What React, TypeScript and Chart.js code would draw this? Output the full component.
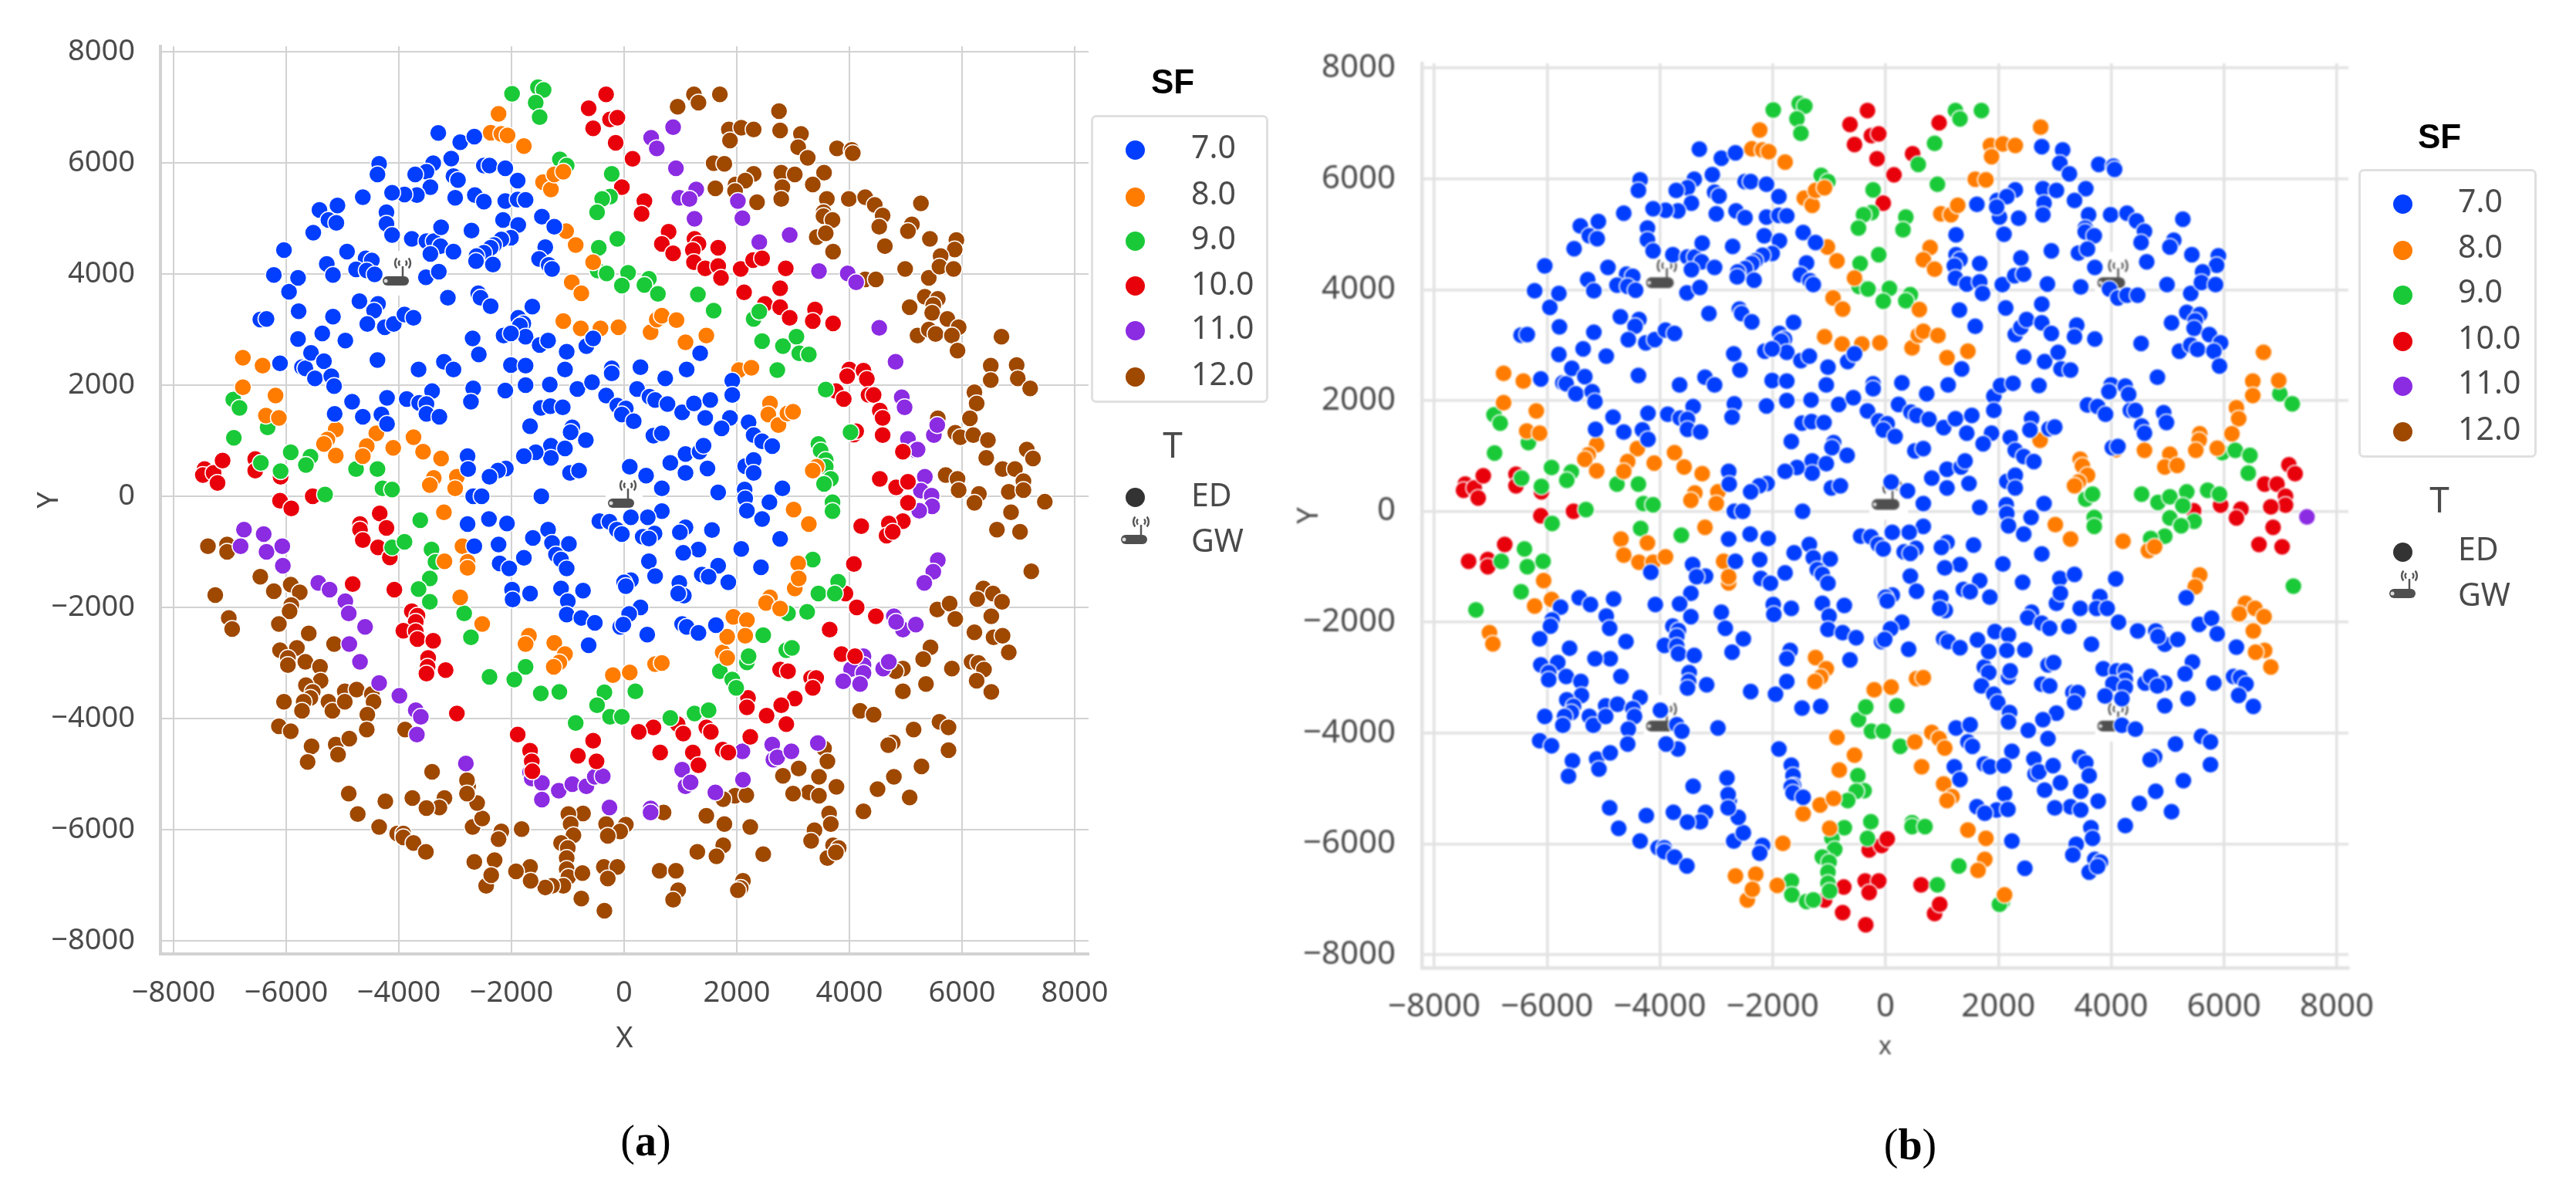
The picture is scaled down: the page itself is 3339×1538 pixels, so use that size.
import React, { useEffect, useRef } from "react";
import { Chart, registerables } from "chart.js";
Chart.register(...registerables);

const tickValues = [-8000, -6000, -4000, -2000, 0, 2000, 4000, 6000, 8000];
const sfLabels = ["7.0", "8.0", "9.0", "10.0", "11.0", "12.0"];
const sfColors = ["#023eff", "#ff7c00", "#1ac938", "#e8000b", "#8b2be2", "#9f4800"];
const gwA = [-4000, 4000, 0, 0];
const gwB = [0, 0, -4000, 4000, 4000, 4000, -4000, -4000, 4000, -4000];

const sf7A = [-3300,6535,-2910,6370,-2660,6470,-3070,6075,-3390,5990,-3510,5840,-3710,5790,-4350,5980,-4380,5790,-2490,5950,-2390,5950,-2110,5900,-1890,5680,-3030,5760,-2950,5690,-3440,5560,-2650,5420,-2490,5300,-3000,5370,-3680,5420,-3900,5430,-4120,5460,-4640,5380,-5090,5230,-5410,5150,-5250,4970,-5110,4920,-5520,4740,-4220,5110,-4220,4900,-4120,4700,-3770,4630,-3510,4590,-3380,4590,-3260,4500,-3250,4840,-2710,4780,-2150,4970,-2110,5310,-1890,5340,-1750,5330,-1880,4880,-2010,4650,-2180,4620,-2310,4520,-2370,4470,-2490,4380,-2620,4320,-2630,4230,-2330,4170,-1460,5030,-1240,4850,-1400,4480,-1510,4270,-1340,4160,-1280,4090,-6040,4430,-6220,3980,-5950,3680,-5790,3930,-5780,3330,-5280,4180,-5170,3980,-4920,4400,-4590,4280,-4480,4240,-4760,4080,-4570,4060,-4430,3990,-3520,3940,-3290,4040,-3440,4360,-3030,4400,-3130,3570,-2590,3650,-2550,3570,-2370,3420,-1630,3410,-1880,3210,-1790,3110,-1850,3070,-1750,2870,-2140,2890,-2010,2930,-2690,2840,-2580,2550,-3650,2280,-3200,2420,-3030,2280,-2010,2360,-1750,2350,-1500,2720,-1350,2800,-1020,2600,-670,2700,-550,2840,-1050,2280,-2680,1940,-2720,1700,-3410,1890,-2110,1900,-1750,2000,-1320,2010,-830,1930,-570,2050,-220,2300,-220,2210,290,2320,730,2120,1110,2280,1350,2570,1920,2080,1920,1820,230,1930,450,1790,550,1730,770,1660,-320,1810,-120,1630,30,1580,-40,1470,170,1350,1030,1510,1240,1670,1440,1410,1530,1730,1880,1410,1730,1220,2210,1330,2300,1100,2450,990,2630,900,-1480,1590,-1310,1620,-1090,1600,-1670,1260,-1300,910,-920,1240,-950,1150,-680,1010,-1050,860,-1300,690,-1570,790,-1780,720,-2100,500,-2240,460,-2390,350,-2780,720,-2770,490,-2680,0,-2530,0,-1470,0,-960,420,-800,460,520,1090,670,1130,820,600,1090,760,1340,800,1410,910,1090,420,1480,500,1670,70,100,530,390,370,670,140,2150,540,2300,650,2300,420,2140,120,2150,-40,2180,-260,2810,140,2580,-110,2450,-410,2770,-770,2080,-950,2430,-1280,1850,-1550,1670,-1250,1380,-1410,1500,-1450,1090,-560,990,-650,1560,-610,1320,-960,1050,-1020,540,-670,670,-270,420,-380,330,-730,440,-760,120,-380,-440,-450,-260,-460,-130,-600,-40,-680,440,-1170,550,-1440,980,-1560,1060,-1790,960,-1750,290,-2000,90,-2120,-70,-2350,-15,-2310,410,-2490,1030,-2300,1110,-2350,1320,-2460,1630,-2320,120,-1510,0,-1550,30,-1620,-730,-1700,-1120,-1660,-1000,-1890,-1020,-2130,-760,-2190,-520,-2280,-630,-2680,-1670,-1750,-1990,-1680,-1980,-1860,-2210,-1210,-2040,-1300,-1780,-1110,-2230,-870,-2780,-500,-2400,-410,-2080,-490,-1620,-750,-1350,-600,-1280,-840,-980,-860,-1210,-1050,-1120,-1140,-1020,-1300,-2660,-900,-6110,2390,-5790,2830,-5360,2930,-5170,3230,-4950,2800,-4700,3510,-4370,3460,-4440,3340,-4560,3100,-4380,2450,-4250,3040,-4090,3100,-3900,3270,-3740,3210,-5720,2320,-5660,2300,-5560,2580,-5330,2430,-5490,2120,-5200,2160,-5150,1980,-4830,1700,-5140,1480,-4640,1430,-4310,1470,-4210,1770,-4210,1300,-3860,1750,-3640,1680,-3510,1660,-3510,1480,-3280,1430,-6460,3180,-6350,3190];
const sf8A = [-2230,6880,-2370,6540,-2180,6520,-2070,6490,-1780,6300,-1440,5650,-1300,5520,-1240,5790,-1080,5840,-1030,4770,-860,4520,-550,4210,-930,3850,-760,3650,-1080,3150,-770,3020,-420,3020,-100,3040,470,2950,580,3180,670,3250,930,3170,1090,2770,1460,2890,2040,2270,2260,2310,2590,1670,2560,1470,2740,1280,2900,1490,3000,1520,-6770,2490,-6420,2350,-6770,1960,-6190,1810,-6360,1450,-6130,1410,-5120,1200,-5270,1020,-5330,940,-5120,730,-4400,1130,-4570,900,-4640,720,-4100,870,-3740,1060,-3570,800,-3250,680,-2970,350,-3000,140,-3380,330,-3450,200,-3200,-290,-2870,-900,-2780,-1180,-2780,-1290,-3190,-1170,-2910,-1820,-2520,-2300,-1690,-2510,-1750,-2660,-1240,-2640,-1050,-2840,-1150,-2990,-1250,-3070,-200,-3220,100,-3170,550,-3020,670,-3000,1940,-2170,2180,-2230,1750,-2810,1830,-2910,1830,-2530,2150,-2510,2590,-1820,2520,-1920,2770,-2020,3090,-1210,3030,-1660,3100,-1480,3010,-240,3280,-500,3420,530,3350,460];
const sf9A = [-1990,7240,-1530,7360,-1430,7310,-1570,7080,-1500,6820,-1140,6060,-1020,5950,-220,5800,-250,5390,-390,5350,-480,5110,-120,4630,-450,4470,-470,4060,-310,4010,70,4020,-40,3790,440,3910,360,3800,600,3640,1310,3630,1590,3340,2300,3190,2400,3320,2450,2790,2820,2700,3060,2870,3110,2570,3280,2550,2720,2270,3580,1920,4020,1150,3450,940,3490,820,3580,650,3580,530,3670,310,3550,220,3700,-110,3700,-270,-6940,1740,-6830,1590,-6930,1050,-6330,1240,-5920,790,-5570,710,-5650,560,-6100,450,-4760,490,-4380,490,-4290,140,-4120,120,-5310,30,-3620,-430,-3420,-960,-3350,-1180,-4120,-920,-3900,-820,-3450,-1480,-3650,-1670,-3450,-1900,-2840,-2110,-2720,-2540,-2390,-3250,-1950,-3300,-1750,-3070,-1480,-3550,-1150,-3520,-350,-3530,-480,-3760,-250,-3970,-40,-3970,200,-3510,-860,-4080,820,-3990,1250,-3910,1500,-3850,1700,-3150,1920,-3300,1990,-3450,2180,-2990,2210,-2880,2470,-2500,2880,-2770,2980,-2730,2910,-2110,3250,-2080,3450,-1750,3350,-1140,3800,-1540,3740,-1750,-6450,600];
const sf10A = [-630,6980,-320,7230,-250,6780,-120,6810,-550,6620,-150,6360,150,6070,-40,5560,360,5310,310,5080,790,4760,670,4540,870,4370,1250,4630,1320,4540,1220,4430,1670,4470,1240,4210,1440,4100,1670,4140,1720,3930,2070,4090,2290,4250,2450,4280,2870,4100,2130,3670,2770,3740,2500,3460,2770,3400,2940,3210,3390,3360,3350,3150,3710,3110,4000,2280,4250,2260,3960,2160,4310,2110,3760,1890,3900,1750,4340,1820,4430,1820,4540,1540,4590,1410,4590,1100,4080,1110,4120,1170,4950,800,4540,310,4830,160,5040,260,5040,-120,4950,-450,4700,-490,4660,-710,4770,-640,4210,-540,4080,-1220,3930,-1750,4130,-2000,4470,-2160,3650,-2400,3860,-2840,4100,-2880,2770,-3120,2910,-3150,3320,-3270,3410,-3270,3350,-3450,3030,-3640,2790,-3760,2530,-3950,2200,-3630,2180,-3800,2880,-4100,2240,-4330,1750,-4560,1850,-4610,1460,-4160,1540,-4240,950,-4100,1050,-4270,1220,-4610,1320,-4840,640,-4610,520,-4160,260,-4240,-550,-4400,-490,-4770,-820,-4670,-1890,-4290,-1670,-4580,-1640,-4770,-1630,-4950,-2970,-3910,-7450,490,-7480,380,-7290,420,-7220,240,-7130,640,-6550,670,-6550,460,-6100,350,-6110,-80,-5910,-220,-5530,0,-4690,-500,-4690,-600,-4640,-790,-4340,-310,-4220,-570,-4370,-920,-4160,-1100,-4820,-1580,-4080,-1680,-3770,-2070,-3670,-2150,-3700,-2260,-3920,-2420,-3700,-2430,-3670,-2570,-3390,-2600,-3480,-2910,-3490,-3070,-3510,-3190,-3170,-3130];
const sf11A = [480,6450,580,6260,870,6640,920,5900,1280,5520,980,5370,1160,5350,2020,5310,2100,5000,1250,4990,2400,4570,2940,4700,3460,4050,3970,4010,4120,3850,4530,3030,4820,2420,4930,1780,4980,1600,5040,1030,5170,830,5210,840,5500,1100,5560,1280,5340,350,5270,100,5460,10,5470,-180,5240,-260,5570,-1150,5490,-1360,5330,-1560,4790,-2160,4950,-2400,5180,-2310,4830,-2260,4250,-2880,4250,-3040,4030,-3110,4250,-3180,3890,-3330,4190,-3380,4600,-3100,4700,-2980,-6750,-600,-6810,-900,-6400,-680,-6350,-1000,-6070,-900,-6060,-1250,-5430,-1560,-5230,-1680,-4950,-1890,-4890,-2110,-4600,-2350,-4880,-2660,-4690,-2980,-4350,-3360,-3990,-3590,-3700,-3850,-3610,-3970,-3680,-4290,-2810,-4810,-1670,-4970,-1640,-5080,-1460,-5160,-1460,-5460,-1160,-5300,-920,-5180,-670,-5220,-520,-5050,-380,-5040,-260,-5600,470,-5620,470,-5690,1030,-4920,1090,-5220,1180,-5150,1620,-5330,2100,-4590,2110,-5100,2630,-4470,2650,-4740,2720,-4700,2970,-4590,3440,-4440];
const sf12A = [1240,7230,1320,7080,1700,7230,950,7010,2750,6930,1860,6600,2080,6630,2300,6600,2770,6580,3140,6520,1880,6400,3090,6280,3260,6090,1590,5990,1780,5980,2300,5800,2790,5820,3030,5790,3550,5820,3350,5610,1620,5540,1980,5610,2150,5680,1970,5490,2810,5560,2790,5350,2360,5290,3600,5350,3990,5350,4280,5380,4450,5240,4590,5050,5270,5270,3540,5110,3540,5040,3700,4970,4530,4850,5110,4890,5040,4770,3420,4660,3580,4730,4630,4500,5430,4630,5900,4610,5870,4440,5620,4320,3710,4400,4990,4090,5410,3930,5600,4130,5850,4090,4280,3900,4470,3900,5070,3400,5340,3590,5570,3550,5490,3440,5470,3300,5740,3190,5210,2890,5410,3000,5530,2920,5940,3040,5820,2890,5920,2620,6700,2870,6510,2350,6510,2090,6970,2360,6990,2120,7210,1940,6220,1870,6260,1670,6140,1400,5880,1140,5970,1060,6200,1100,6460,1010,6430,690,7150,840,7260,680,5570,1400,6720,490,6940,490,5710,380,5920,310,5940,110,6300,40,6220,-120,6830,80,7090,270,7090,110,7470,-100,6870,-290,6620,-600,7030,-640,7230,-1350,6380,-1660,6270,-1850,6550,-1750,6710,-1900,5560,-2040,5780,-1930,5880,-2210,6520,-2160,6220,-2450,6560,-2540,6720,-2510,6830,-2810,5440,-2720,5310,-2930,4950,-3100,4820,-3150,5820,-3100,6170,-2980,6290,-3000,6390,-3120,6260,-3320,6520,-3520,4950,-3510,5360,-3380,4190,-3860,4430,-3930,5140,-4200,5600,-4060,5760,-4160,5760,-4570,4770,-4430,4690,-4480,3550,-4540,3610,-4770,3770,-5230,3460,-5050,3100,-4900,2820,-5030,3280,-5330,3000,-5350,3460,-5390,4250,-5670,4500,-5270,4790,-5050,5280,-4860,5070,-5420,3640,-5710,3670,-5900,3380,-6010,3320,-6200,3710,-6280,3810,-6330,3610,-6510,3760,-6410,2470,-6440,2240,-5950,1970,-5390,1760,-5450,2170,-5380,1780,-5900,1460,-5750,1760,-6280,1640,-6480,1300,-6400,700,-5690,630,-6740,920,-6740,960,-7090,870,-7260,2110,-6920,2070,-7050,2020,-7090,-320,-5900,30,-5910,-70,-6030,-290,-6110,-730,-5710,-990,-5720,-950,-5900,-900,-6100,-1120,-6240,-1000,-6330,-1020,-6510,-1020,-6710,-990,-6850,-740,-6780,-360,-6670,-120,-6670,-290,-6880,-760,-7240,-350,-7460,-1080,-7010,-1280,-7010,-1400,-7040,-1670,-6670,-1920,-6750,-1660,-6920,-2300,-6550,-2450,-7010,-2360,-6820,-2660,-6580,-2180,-6030,-2230,-6170,-1820,-5990,-2690,-5950,-2520,-5800,-2610,-5520,-2770,-5220,-2790,-5110,-2790,-5350,-3190,-5430,-3280,-5600,-3510,-5610,-3760,-5430,-4240,-5490,-4730,-5720,-4890,-5350,-4350,-5950,-4030,-6070,-3920,-6070,-3920,-6140,-3740,-6240,-3520,-6400,-3410,-4960,-7390,-900,-7050,-870,-7050,-1000,-7260,-1780,-7020,-2190,-6960,-2390,-6460,-1450,-6220,-1710,-5920,-1590,-5760,-1730,-5910,-1960,-5940,-2070,-6130,-2300,-5600,-2470,-6110,-2770,-5810,-2730,-5970,-2910,-5970,-3040,-5660,-2980,-5400,-3070,-5150,-2660,-5390,-3320,-5650,-3400,-5530,-3520,-5570,-3630,-6040,-3700,-5690,-3700,-5720,-3860,-5250,-3700,-5180,-3860,-4960,-3510,-4750,-3480,-4960,-3700,-4480,-3560,-4450,-3700,-4560,-3930,-4570,-4200,-3890,-4200,-6130,-4140,-5920,-4230,-5550,-4500,-5620,-4780,-5120,-4470,-5080,-4650,-4880,-4360,3780,6260,4040,6230,4060,6170];

const sf7BExtra = [-2520,-2300,-2910,-1820,-1690,-2510,-1750,-2660,1940,-2170,2180,-2230,1750,-2810,1830,-2910,1830,-2530,2150,-2510,2590,-1820,2520,-1920,2770,-2020,3090,-1210,3030,-1660,3100,-1480,2040,2270,2260,2310,2590,1670,2560,1470,2900,1490,3000,1520,-3190,-1170,1310,3630,1590,3340,2300,3190,2400,3320,2450,2790,2820,2700,3060,2870,3110,2570,3280,2550,2720,2270,3580,1920,4020,1150,1700,-3150,1920,-3300,1990,-3450,2180,-2990,2210,-2880,2470,-2500,2880,-2770,2980,-2730,2910,-2110,3250,-2080,3450,-1750,3350,-1140,3800,-1540,3740,-1750,1250,-3910,1500,-3850,-2720,-2540,-2840,-2110,-2390,-3250,-1950,-3300,-1750,-3070,-1480,-3550,-1150,-3520,-3420,-960,-3350,-1180,-3450,-1480,-3650,-1670,-3450,-1900,1250,4630,1320,4540,1220,4430,1670,4470,1240,4210,1440,4100,1670,4140,1720,3930,2070,4090,2290,4250,2450,4280,2870,4100,2130,3670,2770,3740,2500,3460,2770,3400,2940,3210,3390,3360,3350,3150,3710,3110,4000,2280,4250,2260,3960,2160,4310,2110,3760,1890,3900,1750,4340,1820,4430,1820,4540,1540,4590,1410,4120,1170,4080,-1220,3930,-1750,4130,-2000,4470,-2160,3650,-2400,3860,-2840,4100,-2880,2770,-3120,2910,-3150,3320,-3270,3410,-3270,3350,-3450,3030,-3640,2790,-3760,2530,-3950,2200,-3630,2180,-3800,2880,-4100,2240,-4330,1750,-4560,1850,-4610,1460,-4160,1540,-4240,1220,-4610,1320,-4840,-1890,-4290,-1670,-4580,-1640,-4770,-1630,-4950,-2970,-3910,-4160,-1100,-4820,-1580,-4080,-1680,-3770,-2070,-3670,-2150,-3700,-2260,-3920,-2420,-3700,-2430,-3670,-2570,-3390,-2600,-3480,-2910,-3490,-3070,-3510,-3190,-3170,-3130,2020,5310,2100,5000,1250,4990,2400,4570,2940,4700,3460,4050,3970,4010,4120,3850,4530,3030,4820,2420,4930,1780,4980,1600,5330,-1560,4790,-2160,4950,-2400,5180,-2310,4830,-2260,4250,-2880,4250,-3040,4030,-3110,4250,-3180,3890,-3330,4190,-3380,4600,-3100,4700,-2980,-5430,-1560,-5230,-1680,-4950,-1890,-4890,-2110,-4600,-2350,-4880,-2660,-4690,-2980,-4350,-3360,-3990,-3590,-3700,-3850,-3610,-3970,-3680,-4290,-2810,-4810,-1670,-4970,-1640,-5080,-1460,-5160,1620,-5330,2100,-4590,2110,-5100,2630,-4470,2650,-4740,2720,-4700,2970,-4590,3440,-4440,2770,6580,3140,6520,3090,6280,3260,6090,2300,5800,2790,5820,3030,5790,3550,5820,3350,5610,1620,5540,1980,5610,2150,5680,1970,5490,2810,5560,2790,5350,2360,5290,3600,5350,3990,5350,4280,5380,4450,5240,4590,5050,5270,5270,3540,5110,3540,5040,3700,4970,4530,4850,5110,4890,5040,4770,3420,4660,3580,4730,4630,4500,5430,4630,5900,4610,5870,4440,5620,4320,3710,4400,4990,4090,5410,3930,5600,4130,5850,4090,4280,3900,4470,3900,5070,3400,5340,3590,5570,3550,5490,3440,5470,3300,5740,3190,5210,2890,5410,3000,5530,2920,5940,3040,5820,2890,5920,2620,3780,6260,4040,6230,4060,6170,5560,-2040,5780,-1930,5880,-2210,6220,-2450,5440,-2720,5310,-2930,4950,-3100,4820,-3150,5820,-3100,6170,-2980,6290,-3000,6390,-3120,6260,-3320,6520,-3520,4950,-3510,5360,-3380,4190,-3860,4430,-3930,5140,-4200,5600,-4060,5760,-4160,5760,-4570,4770,-4430,4690,-4480,3550,-4540,3610,-4770,3770,-5230,3460,-5050,3100,-4900,2820,-5030,3280,-5330,3000,-5350,3460,-5390,4250,-5670,4500,-5270,4790,-5050,5280,-4860,5070,-5420,3640,-5710,3670,-5900,3380,-6010,3320,-6200,3710,-6280,3810,-6330,3610,-6510,3760,-6410,2470,-6440,2240,-5950,1970,-5390,1760,-5450,2170,-5380,-2690,-5950,-2520,-5800,-2610,-5520,-2770,-5220,-2790,-5110,-2790,-5350,-3190,-5430,-3280,-5600,-3510,-5610,-3760,-5430,-4240,-5490,-4730,-5720,-4890,-5350,-4350,-5950,-4030,-6070,-3920,-6070,-3920,-6140,-3740,-6240,-3520,-6400,-3410,-4960,-2180,-6030,-2230,-6170,-5760,-1730,-5910,-1960,-5940,-2070,-6130,-2300,-5600,-2470,-6110,-2770,-5810,-2730,-5970,-2910,-5970,-3040,-5660,-2980,-5400,-3070,-5150,-2660,-5390,-3320,-5650,-3400,-5530,-3520,-5570,-3630,-6040,-3700,-5690,-3700,-5720,-3860,-5250,-3700,-5180,-3860,-4960,-3510,-4750,-3480,-4960,-3700,-4480,-3560,-4450,-3700,-4560,-3930,-4570,-4200,-3890,-4200,-6130,-4140,-5920,-4230,-5550,-4500,-5620,-4780,-5120,-4470,-5080,-4650,-4880,-4360];
const sf7B = [...sf7A, ...sf7BExtra];
const sf8B = [-2230,6880,-2370,6540,-2180,6520,-2070,6490,-1780,6300,-1440,5650,-1300,5520,-1240,5790,-1080,5840,-1030,4770,-860,4520,-550,4210,-930,3850,-760,3650,-1080,3150,-770,3020,-420,3020,-100,3040,470,2950,580,3180,670,3250,930,3170,1090,2770,1460,2890,790,4760,670,4540,870,4370,600,3640,980,5370,1160,5350,1280,5520,1590,5990,1780,5980,1860,6600,2080,6630,2300,6600,1880,6400,2750,6930,6700,2870,6510,2350,6970,2360,6510,2090,6220,1870,6260,1670,6140,1400,5570,1400,5560,1280,5500,1100,4590,1100,5880,1140,4080,1110,5040,1030,4950,800,5170,830,2740,1280,3450,940,3490,820,3580,650,3420,530,3350,460,3010,-240,3280,-500,4210,-540,4660,-710,4770,-640,5570,-1150,5490,-1360,6380,-1660,6270,-1850,6550,-1750,6710,-1900,6520,-2160,6720,-2510,6560,-2540,6830,-2810,-6770,2490,-6420,2350,-6770,1960,-6190,1810,-6360,1450,-6130,1410,-5120,1200,-5270,1020,-5330,940,-5120,730,-4400,1130,-4570,900,-4640,720,-4100,870,-3740,1060,-3570,800,-3250,680,-2970,350,-3000,140,-3380,330,-3450,200,-3200,-290,-4690,-500,-4220,-570,-4640,-790,-4370,-920,-4120,-920,-3900,-820,-2870,-900,-2780,-1290,-2780,-1180,-6060,-1250,-6220,-1710,-5920,-1590,-7020,-2190,-6960,-2390,-1240,-2640,-1050,-2840,-1150,-2990,-1250,-3070,-200,-3220,100,-3170,550,-3020,670,-3000,-860,-4080,-550,-4400,-820,-4670,820,-3990,950,-4100,1050,-4270,520,-4160,640,-4610,1030,-4920,1180,-5150,1090,-5220,-1460,-5460,-1160,-5300,-920,-5180,-990,-5720,1460,-5750,1780,-5900,1760,-6280,1640,-6480,-1820,-5990,-2660,-6580,-2300,-6550,-2450,-7010,-2360,-6820,-1920,-6750,2110,-6920];
const sf9B = [-1990,7240,-1530,7360,-1430,7310,-1570,7080,-1500,6820,-1140,6060,-1020,5950,-220,5800,-250,5390,-390,5350,-480,5110,-120,4630,-450,4470,-470,4060,-310,4010,70,4020,-40,3790,440,3910,360,3800,360,5310,310,5080,580,6260,870,6640,920,5900,1240,7230,1320,7080,1700,7230,6990,2120,7210,1940,5970,1060,6200,1100,6460,1010,6430,690,4540,310,4830,160,5040,260,5340,350,5270,100,5710,380,5920,310,5470,-180,5040,-120,5240,-260,4950,-450,4700,-490,3550,220,3670,310,3700,-110,3700,-270,7230,-1350,-6940,1740,-6830,1590,-6930,1050,-6330,1240,-5920,790,-5570,710,-5650,560,-6100,450,-6450,600,-4760,490,-4380,490,-4290,140,-4120,120,-5310,30,-5910,-220,-4340,-310,-3620,-430,-6400,-680,-6810,-900,-6350,-1000,-6070,-900,-6460,-1450,-7260,-1780,-480,-3760,-350,-3530,200,-3510,-250,-3970,-40,-3970,260,-4240,-490,-4770,-380,-5040,-520,-5050,-670,-5220,-730,-5710,-260,-5600,-320,-5900,470,-5620,470,-5690,700,-5690,-950,-5900,-900,-6100,-1120,-6240,-1000,-6330,-1020,-6510,-1020,-6710,-990,-6850,-1670,-6670,-1660,-6920,-1400,-7040,-1280,-7010,920,-6740,1300,-6400,2070,-7050,2020,-7090];
const sf10B = [-630,6980,-320,7230,-250,6780,-120,6810,-550,6620,-150,6360,150,6070,-40,5560,480,6450,950,7010,7150,840,6720,490,6940,490,7260,680,7090,270,7090,110,6830,80,6870,-290,6620,-600,7030,-640,6300,40,6220,-120,5940,110,5460,10,-7450,490,-7480,380,-7290,420,-7220,240,-7130,640,-6550,670,-6550,460,-6100,350,-6110,-80,-5530,0,-6750,-600,-7390,-900,-7050,-870,-7050,-1000,-1080,-7010,-740,-6780,-760,-7240,-350,-7460,-360,-6670,-120,-6670,-290,-6880,-290,-6110,-70,-6030,30,-5910,630,-6740,870,-7260,960,-7090];
const sf11B = [7470,-100];
const sf12B: number[] = [];
const seriesA = [sf7A, sf8A, sf9A, sf10A, sf11A, sf12A];
const seriesB = [sf7B, sf8B, sf9B, sf10B, sf11B, sf12B];

const toPoints = (flat: number[]) => {
  const out: { x: number; y: number }[] = [];
  for (let i = 0; i < flat.length; i += 2) out.push({ x: flat[i], y: flat[i + 1] });
  return out;
};

type Icon = { hx0: number; hx1: number; hy0: number; hy1: number; bx: number; by: number; bw: number; bh: number; ax: number; ay0: number; ay1: number; acy: number; r1: number; r2: number };
const iconA: Icon = { hx0: -24, hx1: 24, hy0: -30, hy1: 28, bx: -21, by: 3, bw: 34, bh: 12, ax: 5, ay0: 4, ay1: -10, acy: -14, r1: 5, r2: 10 };
const iconB: Icon = { hx0: -21, hx1: 29, hy0: -49, hy1: 11, bx: -18, by: -16, bw: 36, bh: 14, ax: 9, ay0: -15, ay1: -28, acy: -31, r1: 6, r2: 12 };

function routerCanvas(k: Icon): HTMLCanvasElement {
  const c = document.createElement("canvas");
  c.width = 120;
  c.height = 120;
  const g = c.getContext("2d")!;
  g.translate(60, 60);
  g.fillStyle = "#fff";
  g.fillRect(k.hx0, k.hy0, k.hx1 - k.hx0, k.hy1 - k.hy0);
  g.fillStyle = "#4f4f4f";
  g.strokeStyle = "#555";
  g.beginPath();
  g.roundRect(k.bx, k.by, k.bw, k.bh, k.bh / 2);
  g.fill();
  g.fillStyle = "#ddd";
  g.beginPath();
  g.arc(k.bx + 4, k.by + k.bh / 2, 2.5, 0, 7);
  g.fill();
  g.lineWidth = 2.5;
  g.beginPath();
  g.moveTo(k.ax, k.ay0);
  g.lineTo(k.ax, k.ay1);
  g.stroke();
  for (const r of [k.r1, k.r2]) {
    g.beginPath();
    g.arc(k.ax, k.acy, r, -0.7, 0.7);
    g.stroke();
    g.beginPath();
    g.arc(k.ax, k.acy, r, Math.PI - 0.7, Math.PI + 0.7);
    g.stroke();
  }
  return c;
}

const RouterSvg = ({ left, top }: { left: number; top: number }) => (
  <svg width={48} height={44} viewBox="-24 -26 48 44" style={{ position: "absolute", left: left - 24, top: top - 26 }}>
    <rect x={-21} y={3} width={34} height={12} rx={6} fill="#4f4f4f" />
    <circle cx={-17} cy={9} r={2.5} fill="#ddd" />
    <path d="M5 4V-10" stroke="#555" strokeWidth={2.5} fill="none" />
    <path d="M9 -17.5A5 5 0 0 1 9 -10.5M1 -17.5A5 5 0 0 0 1 -10.5M12.6 -20.4A10 10 0 0 1 12.6 -7.6M-2.6 -20.4A10 10 0 0 0 -2.6 -7.6" stroke="#555" strokeWidth={2.5} fill="none" />
  </svg>
);

type Frame = {
  left: number; width: number; L: number; R: number; T: number; B: number;
  xMin: number; xMax: number; yMin: number; yMax: number;
  tickFont: number; tickPadY: number; tickPadX: number; titlePadY: number; titlePadX: number; titleXFont: number;
  gridW: number; spineW: number; gridColor: string; blur: number; titleX: string; series: number[][]; gw: number[]; icon: Icon;
};
const CANVAS_H = 1420;
const fmt = (v: number | string) => String(v).replace("-", "\u2212");

function Panel({ f }: { f: Frame }) {
  const ref = useRef<HTMLCanvasElement>(null);
  useEffect(() => {
    const icon = routerCanvas(f.icon);
    const textColor = "#4a4a4a";
    const axis = (min: number, max: number, isX: boolean) => ({
      type: "linear" as const,
      position: isX ? ("bottom" as const) : ("left" as const),
      min,
      max,
      afterBuildTicks: (s: any) => { s.ticks = tickValues.map((value) => ({ value })); },
      afterFit: (s: any) => {
        if (isX) s.height = CANVAS_H - f.B;
        else s.width = f.L;
      },
      grid: { color: f.gridColor, lineWidth: f.gridW, drawTicks: false },
      border: { display: true, color: f.gridColor, width: f.spineW },
      ticks: {
        color: textColor,
        font: { family: "'Noto Sans'", size: f.tickFont },
        padding: isX ? f.tickPadX : f.tickPadY,
        maxRotation: 0,
        autoSkip: false,
        callback: (v: number | string) => fmt(v),
      },
      title: {
        display: true,
        text: isX ? f.titleX : "Y",
        color: textColor,
        font: { family: "'Noto Sans'", size: isX ? f.titleXFont : 38 },
        padding: isX ? { top: 0, bottom: f.titlePadX } : { top: f.titlePadY, bottom: 0 },
      },
    });
    const chart = new Chart(ref.current!, {
      type: "scatter",
      data: {
        datasets: [
          ...f.series.map((s, i) => ({
            label: sfLabels[i],
            data: toPoints(s),
            backgroundColor: sfColors[i],
            borderColor: "#ffffff",
            borderWidth: 1.5,
            pointRadius: 11,
          })),
          { label: "GW", data: toPoints(f.gw), pointStyle: icon as any, pointRadius: 12 },
        ],
      },
      options: {
        responsive: false,
        animation: false,
        layout: { autoPadding: false, padding: { left: 0, top: f.T, right: f.width - f.R, bottom: 0 } },
        plugins: { legend: { display: false }, tooltip: { enabled: false } },
        scales: { x: axis(f.xMin, f.xMax, true), y: axis(f.yMin, f.yMax, false) },
      } as any,
    });
    return () => chart.destroy();
  }, [f]);
  return (
    <canvas
      ref={ref}
      width={f.width}
      height={CANVAS_H}
      style={{ position: "absolute", left: f.left, top: 0, width: f.width, height: CANVAS_H, filter: `blur(${f.blur}px)` }}
    />
  );
}

type LegendSpec = {
  boxX: number; boxY: number; boxW: number; boxH: number; dotX: number; textX: number;
  dotYs: number[]; textYs: number[]; sfX: number; sfY: number; tX: number; tY: number;
  edDotX: number; edDotY: number; edY: number; gwY: number; iconX: number; iconY: number;
};
const label = (text: string, x: number, y: number, extra: React.CSSProperties = {}) => (
  <div key={text} style={{ position: "absolute", left: x, top: y, transform: "translateY(-50%)", font: "41px 'Noto Sans'", color: "#4a4a4a", lineHeight: 1, whiteSpace: "nowrap", ...extra }}>{text}</div>
);
const dot = (x: number, y: number, color: string, key: string) => (
  <div key={key} style={{ position: "absolute", left: x - 12.5, top: y - 12.5, width: 25, height: 25, borderRadius: "50%", background: color }} />
);
function Legend({ s }: { s: LegendSpec }) {
  return (
    <div style={{ position: "absolute", left: 0, top: 0, width: 3339, height: 1538, filter: "blur(0.7px)" }}>
      {label("SF", s.sfX, s.sfY, { font: "bold 44px 'Liberation Sans'", color: "#000", transform: "translate(-50%,-50%)" })}
      <div style={{ position: "absolute", left: s.boxX, top: s.boxY, width: s.boxW, height: s.boxH, border: "3px solid #e0e0e0", borderRadius: 7, boxSizing: "border-box" }} />
      {sfLabels.map((t, i) => dot(s.dotX, s.dotYs[i], sfColors[i], "d" + t))}
      {sfLabels.map((t, i) => label(t, s.textX, s.textYs[i]))}
      {label("T", s.tX, s.tY, { font: "46px 'Noto Sans'", transform: "translate(-50%,-50%)" })}
      {dot(s.edDotX, s.edDotY, "#333333", "ed")}
      {label("ED", s.textX, s.edY)}
      <RouterSvg left={s.iconX} top={s.iconY} />
      {label("GW", s.textX, s.gwY)}
    </div>
  );
}

const frameA: Frame = { left: 0, width: 1670, L: 208, R: 1411, T: 60, B: 1236, xMin: -8233, xMax: 8247, yMin: -8236, yMax: 8095, tickFont: 38, tickPadY: 33, tickPadX: 28, titlePadY: 41, titlePadX: 51, titleXFont: 38, gridW: 2, spineW: 4, gridColor: "#d2d2d2", blur: 0.7, titleX: "X", series: seriesA, gw: gwA, icon: iconA };
const frameB: Frame = { left: 1670, width: 1669, L: 173, R: 1374, T: 82, B: 1254, xMin: -8219, xMax: 8205, yMin: -8237, yMax: 8084, tickFont: 42, tickPadY: 34, tickPadX: 26, titlePadY: 4, titlePadX: 44, titleXFont: 32, gridW: 3.5, spineW: 4.5, gridColor: "#e2e2e2", blur: 1.1, titleX: "x", series: seriesB, gw: gwB, icon: iconB };
const legendA: LegendSpec = { boxX: 1414, boxY: 149, boxW: 230, boxH: 373, dotX: 1471, textX: 1544, dotYs: [194, 255, 312, 370, 428, 488], textYs: [189, 249, 307, 366, 423, 483], sfX: 1520, sfY: 106, tX: 1520, tY: 575, edDotX: 1471, edDotY: 644, edY: 640, gwY: 699, iconX: 1474, iconY: 690 };
const legendB: LegendSpec = { boxX: 3057, boxY: 219, boxW: 231, boxH: 374, dotX: 3114, textX: 3186, dotYs: [264, 324, 382, 442, 500, 559], textYs: [259, 318, 376, 436, 494, 554], sfX: 3162, sfY: 177, tX: 3162, tY: 646, edDotX: 3114, edDotY: 715, edY: 710, gwY: 769, iconX: 3118, iconY: 760 };

export default function App() {
  return (
    <div style={{ position: "absolute", left: 0, top: 0, width: 3339, height: 1538, background: "#fff", overflow: "hidden" }}>
      <Panel f={frameA} />
      <Panel f={frameB} />
      <Legend s={legendA} />
      <Legend s={legendB} />
      <div style={{ position: "absolute", left: 837, top: 1478, transform: "translate(-50%,-50%)", font: "56px 'Liberation Serif'", color: "#000" }}>(<b>a</b>)</div>
      <div style={{ position: "absolute", left: 2476, top: 1483, transform: "translate(-50%,-50%)", font: "56px 'Liberation Serif'", color: "#000" }}>(<b>b</b>)</div>
    </div>
  );
}
